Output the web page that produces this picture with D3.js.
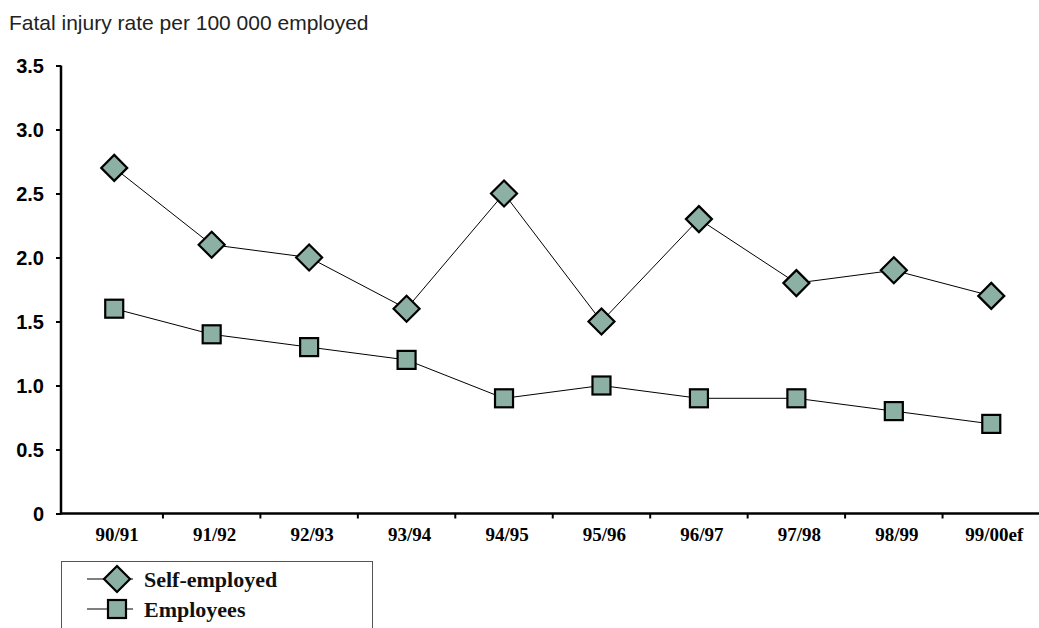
<!DOCTYPE html>
<html><head><meta charset="utf-8">
<script src="https://cdn.jsdelivr.net/npm/d3@7"></script>
<style>body{margin:0;background:#fff}svg{display:block}</style>
</head><body>
<svg id="c" width="1039" height="628"></svg>
<script>
const categories = ["90/91","91/92","92/93","93/94","94/95","95/96","96/97","97/98","98/99","99/00ef"];
const selfEmployed = [2.7,2.1,2.0,1.6,2.5,1.5,2.3,1.8,1.9,1.7];
const employees = [1.6,1.4,1.3,1.2,0.9,1.0,0.9,0.9,0.8,0.7];
const yTicks = [0,0.5,1.0,1.5,2.0,2.5,3.0,3.5];
const yTickLabels = ["0","0.5","1.0","1.5","2.0","2.5","3.0","3.5"];
const seriesNames = ["Self-employed","Employees"];

const svg = d3.select("#c");
const fill = "#8db0a4";
const x = d3.scaleBand().domain(categories).range([65.5,1040]);
const y = d3.scaleLinear().domain([0,3.5]).range([513.5,65.5]);

svg.append("text").attr("x",9).attr("y",30).attr("font-family","Liberation Sans, Arial, sans-serif")
  .attr("font-size",21).attr("fill","#222").text("Fatal injury rate per 100 000 employed");

// y axis
const ya = svg.append("g").attr("transform","translate(61,0)")
  .call(d3.axisLeft(y).tickValues(yTicks).tickFormat((d,i)=>yTickLabels[i]).tickSize(5).tickPadding(12));
ya.select(".domain").attr("stroke","#000").attr("stroke-width",2.5).attr("d","M0,514.5V65.5");
ya.selectAll(".tick line").attr("stroke","#000").attr("stroke-width",2);
ya.selectAll(".tick text").attr("font-family","Liberation Sans, Arial, sans-serif").attr("font-weight","bold")
  .attr("font-size",20).attr("fill","#000").attr("dy","0.36em");

// x axis
const xa = svg.append("g").attr("transform","translate(0,513.5)")
  .call(d3.axisBottom(x).tickSize(0).tickPadding(0));
xa.select(".domain").attr("stroke","#000").attr("stroke-width",2.5).attr("d","M60,0H1039");
xa.selectAll(".tick text").attr("font-family","Liberation Serif, Times New Roman, serif").attr("font-weight","bold")
  .attr("font-size",19).attr("fill","#000").attr("dy",null).attr("y",27).attr("dx",3);
const bounds = categories.slice(1).map(c=>x(c));
xa.selectAll(".xt").data(bounds).enter().append("line").attr("class","xt")
  .attr("x1",d=>d).attr("x2",d=>d).attr("y1",0).attr("y2",5).attr("stroke","#000").attr("stroke-width",2);

const cx = d=>x(d)+x.bandwidth()/2;
const line = d3.line().x((d,i)=>cx(categories[i])).y(d=>y(d));

function marker(g, shape, px, py){
  if(shape==="diamond"){
    g.append("path").attr("d",`M${px},${py-13}L${px+13},${py}L${px},${py+13}L${px-13},${py}Z`)
      .attr("fill",fill).attr("stroke","#000").attr("stroke-width",2.2);
  } else {
    g.append("rect").attr("x",px-9).attr("y",py-9).attr("width",18).attr("height",18)
      .attr("fill",fill).attr("stroke","#000").attr("stroke-width",2.2);
  }
}
function drawSeries(data, shape){
  svg.append("path").datum(data).attr("d",line).attr("fill","none").attr("stroke","#000").attr("stroke-width",1);
  const g = svg.append("g");
  data.forEach((v,i)=>marker(g, shape, cx(categories[i]), y(v)));
}
drawSeries(selfEmployed,"diamond");
drawSeries(employees,"square");

// legend
const lg = svg.append("g");
lg.append("rect").attr("x",61.5).attr("y",561.5).attr("width",311).attr("height",80)
  .attr("fill","#fff").attr("stroke","#555").attr("stroke-width",1);
const shapes = ["diamond","square"];
const legendY = [579, 609];
seriesNames.forEach((n,i)=>{
  const ly = legendY[i], lx = 117;
  lg.append("line").attr("x1",87).attr("x2",133).attr("y1",ly).attr("y2",ly).attr("stroke","#000");
  marker(lg, shapes[i], lx, ly);
  lg.append("text").attr("x",144).attr("y",ly+8).attr("font-family","Liberation Serif, Times New Roman, serif")
    .attr("font-weight","bold").attr("font-size",22).attr("fill","#111").text(n);
});
</script>
</body></html>
